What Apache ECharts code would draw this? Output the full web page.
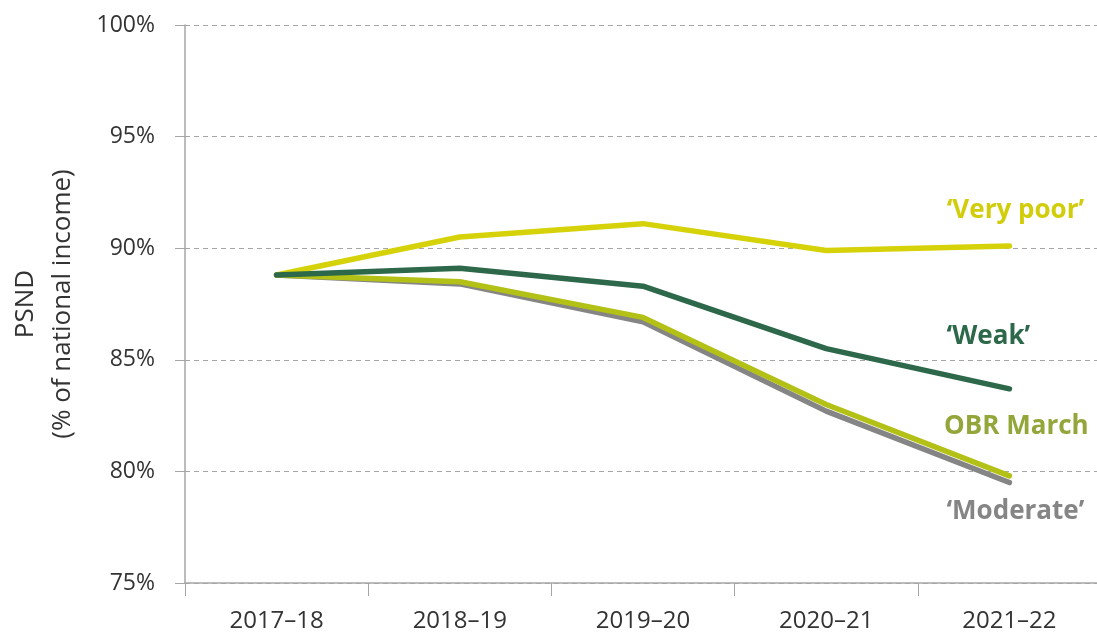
<!DOCTYPE html>
<html lang="en">
<head>
  <meta charset="UTF-8">
  <title>PSND scenarios</title>
  <style>
    html, body { margin: 0; padding: 0; background: #fff; }
    .main { width: 1097px; height: 635px; }
  </style>
</head>
<body>
  <div class="main"></div>
  <script src="https://cdn.jsdelivr.net/npm/echarts@6/dist/echarts.min.js"></script>
  <script>
    const years = ['2017–18', '2018–19', '2019–20', '2020–21', '2021–22']
    const yTicks = [75, 80, 85, 90, 95, 100]
    const moderate = [88.8, 88.4, 86.7, 82.7, 79.5]
    const obrMarch = [88.8, 88.5, 86.9, 83.0, 79.8]
    const veryPoor = [88.8, 90.5, 91.1, 89.9, 90.1]
    const weak = [88.8, 89.1, 88.3, 85.5, 83.7]

    const font = '"Open Sans", "Noto Sans", sans-serif'
    const chart = echarts.init(document.querySelector('.main'))

    // one line per scenario, name written next to its last point
    const line = (name, values, color, labelColor, text, offset, z) => ({
      name: name,
      type: 'line',
      data: values,
      symbol: 'none',
      z: z,
      lineStyle: { color: color, width: 5.5, cap: 'round', join: 'round' },
      endLabel: {
        show: true,
        formatter: text,
        distance: 0,
        align: 'center',
        verticalAlign: 'middle',
        offset: offset,
        color: labelColor,
        fontFamily: font,
        fontWeight: 'bold',
        fontSize: 26
      },
      emphasis: { disabled: true }
    })

    chart.setOption({
      animation: false,
      grid: { left: 185, right: -4, top: 25, bottom: 52, outerBoundsMode: 'none' },
      xAxis: {
        type: 'category',
        data: years,
        boundaryGap: true,
        axisLine: { lineStyle: { color: '#a6a6a6', width: 1.5 } },
        axisTick: { show: true, length: 13, lineStyle: { color: '#a6a6a6' } },
        axisLabel: { color: '#333', fontFamily: font, fontSize: 24, margin: 26 }
      },
      yAxis: {
        type: 'value',
        min: yTicks[0],
        max: yTicks[yTicks.length - 1],
        interval: 5,
        name: 'PSND\n(% of national income)',
        nameLocation: 'middle',
        nameGap: 104,
        nameRotate: 90,
        nameTextStyle: { color: '#333', fontFamily: font, fontSize: 26, lineHeight: 37 },
        axisLine: { show: true, lineStyle: { color: '#a6a6a6', width: 1.5 } },
        axisTick: { show: true, length: 10, lineStyle: { color: '#a6a6a6' } },
        axisLabel: { color: '#333', fontFamily: font, fontSize: 23, margin: 30, formatter: '{value}%' },
        splitLine: { show: true, lineStyle: { color: '#a6a6a6', type: [5, 4], width: 1 } }
      },
      series: [
        line('Moderate', moderate, '#858585', '#858585', '‘Moderate’', [6, 29], 2),
        line('OBR March', obrMarch, '#b3c016', '#93a63a', 'OBR March', [7, -49], 3),
        line('Very poor', veryPoor, '#d6d20a', '#d2cd0a', '‘Very poor’', [6, -35], 4),
        line('Weak', weak, '#2d684a', '#2d684a', '‘Weak’', [-21, -52], 5)
      ]
    })
  </script>
</body>
</html>
